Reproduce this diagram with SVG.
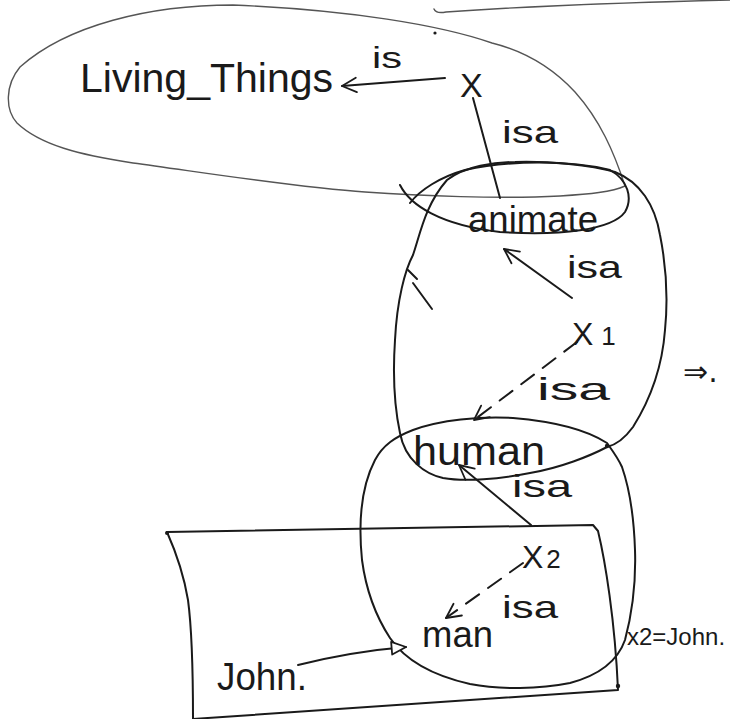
<svg xmlns="http://www.w3.org/2000/svg" width="730" height="719" viewBox="0 0 730 719">
<style>
.bg{fill:#ffffff}
.reg{fill:none;stroke:#1a1a1a;stroke-width:2;stroke-linecap:round;stroke-linejoin:round}
.thin{fill:none;stroke:#555;stroke-width:1.4;stroke-linecap:round}
.ln{fill:none;stroke:#1a1a1a;stroke-width:2;stroke-linecap:round}
.dash{stroke-dasharray:16 11}
.t{font-family:"Liberation Sans","Open Sans",sans-serif;fill:#1a1a1a}
.dot{fill:#1a1a1a}
</style>
<defs>
<marker id="ah" viewBox="0 0 20 20" refX="18" refY="10" markerWidth="18" markerHeight="18" markerUnits="userSpaceOnUse" orient="auto">
<path d="M2,2 L18,10 L2,18" fill="none" stroke="#1a1a1a" stroke-width="2" stroke-linecap="round" stroke-linejoin="round"/>
</marker>
<marker id="tri" viewBox="0 0 20 20" refX="18" refY="10" markerWidth="18" markerHeight="18" markerUnits="userSpaceOnUse" orient="auto">
<path d="M2,3 L18,10 L2,17 Z" fill="#fff" stroke="#1a1a1a" stroke-width="2" stroke-linejoin="round"/>
</marker>
</defs>
<rect class="bg" x="0" y="0" width="730" height="719"/>

<g id="regions">
<path class="thin" d="M434,9 Q436,14 446,12 Q560,4 730,0"/>
<path class="thin" d="M625,186 C614,152 600,120 575,92 C550,65 520,50 492,43 C440,25 350,10 233,5 C150,5 67,25 20,67 C5,85 5,110 17,123 C40,145 80,155 133,163 C200,172 300,188 365,192 C420,196 500,199 560,196 C590,194 612,192 625,186"/>
<path class="reg" d="M400,185 C410,205 440,225 500,232 C560,236 612,230 625,212 C633,198 628,180 610,170 C570,160 510,160 465,170 C440,177 420,190 410,203"/>
<path class="reg" d="M607,447 C590,456 560,468 530,473 C500,479 465,482 443,478 C425,474 405,460 400,433 C394,405 393,370 395,340 C397,300 405,270 413,255 C420,235 425,205 447,180 C465,166 495,162 515,162 C550,161 590,165 615,172 C640,182 655,205 660,235 C666,265 668,300 665,330 C662,370 650,400 633,427 C625,438 615,445 607,447 Z"/>
<path class="reg" d="M408,270 L417,279 M413,283 L432,309"/>
<path class="reg" d="M607,443 C590,432 560,422 513,418 C480,416 440,420 413,430 C395,437 383,445 375,460 C362,485 358,520 362,560 C366,590 375,615 390,638 C405,660 430,675 470,684 C500,690 540,689 570,683 C600,675 618,660 625,640 C633,610 636,580 635,550 C634,520 630,490 622,467 C618,458 612,450 607,443 Z"/>
<path class="reg" d="M167,532 L593,525 L598,531 C605,560 615,620 618,690 L193,719 C193,680 192,630 188,600 C183,570 175,550 167,532 Z"/>
<circle class="dot" cx="435" cy="33" r="1.6"/>
<circle class="dot" cx="607" cy="446" r="2.2"/>
<circle class="dot" cx="167" cy="533" r="2"/>
<circle class="dot" cx="618" cy="686" r="2.2"/>
</g>

<g id="connectors">
<path class="ln" d="M445,78 L342,86" marker-end="url(#ah)"/>
<path class="ln" d="M473,98 L500,198"/>
<path class="ln" d="M572,298 L504,249" marker-end="url(#ah)"/>
<path class="ln dash" d="M577,342 L474,420" marker-end="url(#ah)"/>
<path class="ln" d="M531,525 L459,465" marker-end="url(#ah)"/>
<path class="ln dash" d="M523,563 L446,618" marker-end="url(#ah)"/>
<path class="ln" d="M298,665 C330,657 370,650 406,647" marker-end="url(#tri)"/>
</g>

<g id="labels">
<text class="t" x="372" y="68" font-size="30" textLength="30" lengthAdjust="spacingAndGlyphs">is</text>
<text class="t" x="502" y="143" font-size="32" textLength="56" lengthAdjust="spacingAndGlyphs">isa</text>
<text class="t" x="567" y="278" font-size="32" textLength="55" lengthAdjust="spacingAndGlyphs">isa</text>
<text class="t" x="537" y="400" font-size="32" textLength="73" lengthAdjust="spacingAndGlyphs">isa</text>
<text class="t" x="512" y="497" font-size="32" textLength="60" lengthAdjust="spacingAndGlyphs">isa</text>
<text class="t" x="502" y="618" font-size="32" textLength="56" lengthAdjust="spacingAndGlyphs">isa</text>
</g>

<g id="node-living-things"><text class="t" x="80" y="92" font-size="40" textLength="253" lengthAdjust="spacingAndGlyphs">Living_Things</text></g>
<g id="node-x"><text class="t" x="460" y="97" font-size="34">X</text></g>
<g id="node-animate"><text class="t" x="468" y="232" font-size="36" textLength="130" lengthAdjust="spacingAndGlyphs">animate</text></g>
<g id="node-x1"><text class="t" x="572" y="345" font-size="32">X<tspan font-size="26" dx="8">1</tspan></text></g>
<g id="node-human"><text class="t" x="413" y="465" font-size="40" textLength="132" lengthAdjust="spacingAndGlyphs">human</text></g>
<g id="node-x2"><text class="t" x="522" y="568" font-size="32">X<tspan font-size="26" dx="3">2</tspan></text></g>
<g id="node-man"><text class="t" x="422" y="647" font-size="36" textLength="71" lengthAdjust="spacingAndGlyphs">man</text></g>
<g id="node-john"><text class="t" x="217" y="690" font-size="38" textLength="90" lengthAdjust="spacingAndGlyphs">John.</text></g>
<g id="node-x2-john"><text class="t" x="627" y="645" font-size="24">x2=John.</text></g>
<g id="node-implies"><text x="683" y="382" font-size="30" font-family="'DejaVu Sans',sans-serif" fill="#1a1a1a">⇒.</text></g>
</svg>
